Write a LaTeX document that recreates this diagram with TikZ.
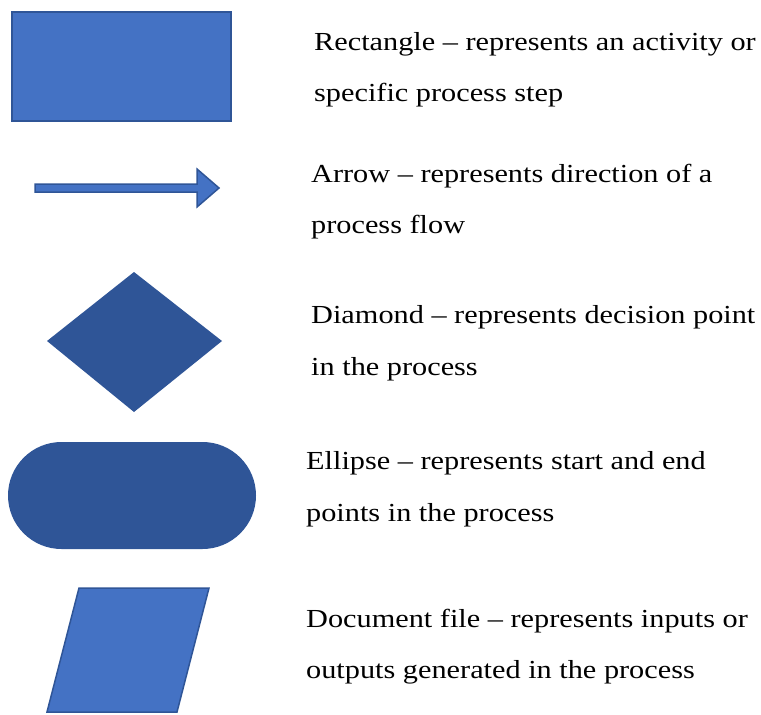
\documentclass[tikz,border=0pt]{standalone}
\usepackage{fontspec}
\setmainfont[FakeStretch=1.165]{Liberation Serif}
\definecolor{shapefill}{HTML}{4472C4}
\definecolor{shapeedge}{HTML}{2F5597}
\begin{document}
\begin{tikzpicture}[x=1pt,y=-1pt,
  lightshape/.style={fill=shapefill,draw=shapeedge,line width=2pt,line join=miter},
  darkshape/.style={fill=shapeedge,draw=none},
  legendtext/.style={anchor=base west,inner sep=0pt,font=\fontsize{26}{30}\selectfont,text=black}]
\useasboundingbox (0,0) rectangle (761,715);

% rectangle: activity / process step
\draw[lightshape] (12,12) rectangle (231,121);

% block arrow: flow direction
\draw[lightshape,line width=1.5pt]
  (35,184) -- (197,184) -- (197,169) -- (219,188) -- (197,207)
  -- (197,192) -- (35,192) -- cycle;

% diamond: decision point
\fill[darkshape] (134,272) -- (222,341) -- (134,412) -- (47,341) -- cycle;

% stadium: start / end
\fill[darkshape, rounded corners=53.5pt] (8,442) rectangle (256,549);

% parallelogram: document / data
\draw[lightshape,line width=1.5pt] (79,588) -- (209,588) -- (177,712) -- (47,712) -- cycle;

% descriptions
\node[legendtext] (rect1) at (314,50.5) {Rectangle -- represents an activity or};
\node[legendtext] (rect2) at (314,101) {specific process step};
\node[legendtext] (arrow1) at (311,182) {Arrow -- represents direction of a};
\node[legendtext] (arrow2) at (311,233) {process flow};
\node[legendtext] (diam1) at (311,323) {Diamond -- represents decision point};
\node[legendtext] (diam2) at (311,375) {in the process};
\node[legendtext] (ell1) at (306,469) {Ellipse -- represents start and end};
\node[legendtext] (ell2) at (306,521) {points in the process};
\node[legendtext] (doc1) at (306,627) {Document file -- represents inputs or};
\node[legendtext] (doc2) at (306,678) {outputs generated in the process};
\end{tikzpicture}
\end{document}
